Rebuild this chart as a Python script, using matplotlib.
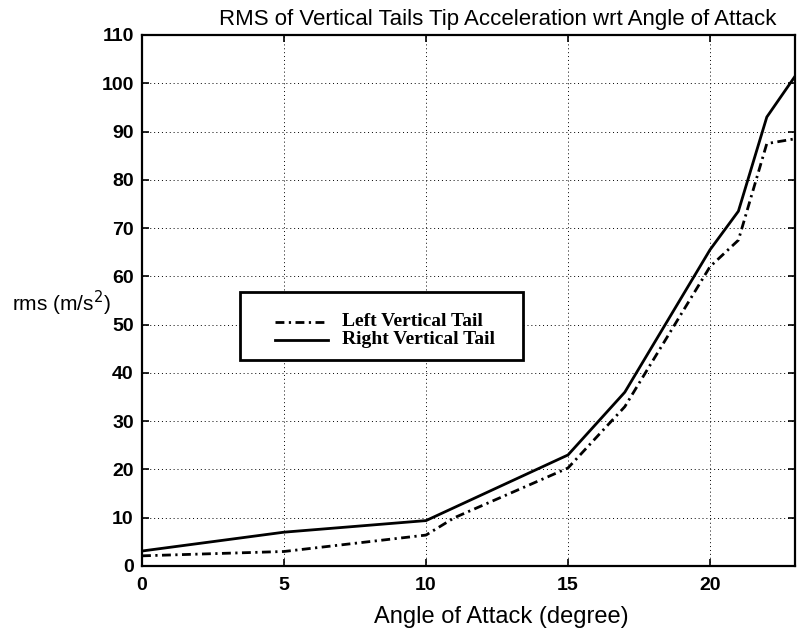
import matplotlib
matplotlib.use("Agg")
import matplotlib.pyplot as plt
from matplotlib.patches import Rectangle
from matplotlib.lines import Line2D

angle = [0, 5, 10, 11, 15, 17, 20, 21, 22, 23]
left_tail = [2.1, 3.0, 6.4, 10.0, 20.3, 33.0, 62.0, 67.5, 87.5, 88.5]
right_angle = [0, 5, 10, 15, 17, 20, 21, 22, 23]
right_tail = [3.1, 7.0, 9.4, 23.0, 36.0, 65.5, 73.5, 93.0, 101.5]
xticks = [0, 5, 10, 15, 20]
yticks = list(range(0, 111, 10))
series_names = ["Left Vertical Tail", "Right Vertical Tail"]

fig = plt.figure(figsize=(8, 6.34), dpi=100)
ax = fig.add_axes([0.1775, 0.1073, 0.8165, 0.8375])

left_style = (0, (3.2, 1.6, 0.8, 1.6))
ax.plot(angle, left_tail, color="black", lw=2.0, linestyle=left_style)
ax.plot(right_angle, right_tail, color="black", lw=2.0, linestyle="-")

ax.set_xlim(0, 23)
ax.set_ylim(0, 110)
ax.set_xticks(xticks)
ax.set_yticks(yticks)
ax.grid(True, color="black", linestyle=(0, (1, 3)), linewidth=0.7)
ax.tick_params(direction="in", top=True, right=True, length=5, width=1.2,
               labelsize=14)
ax.tick_params(axis="x", pad=8)
ax.tick_params(axis="y", pad=6)
for lab in ax.get_xticklabels() + ax.get_yticklabels():
    lab.set_fontfamily("Liberation Sans")
    lab.set_fontweight("bold")
for s in ax.spines.values():
    s.set_linewidth(1.6)

fig.text(0.622, 1 - 25 / 634, "RMS of Vertical Tails Tip Acceleration wrt Angle of Attack",
         fontfamily="Liberation Sans", fontsize=16, ha="center", va="baseline")
fig.text(501 / 800, 1 - 617.5 / 634, "Angle of Attack (degree)",
         fontfamily="Liberation Sans", fontsize=17, ha="center", va="center")
fig.text(12 / 800, 1 - 303 / 634, "rms (m/s$^2$)", fontfamily="Liberation Sans",
         fontsize=15, va="center", ha="left")

# legend box (drawn in axes coordinates)
ax.add_patch(Rectangle((0.150, 0.388), 0.4335, 0.1286, transform=ax.transAxes,
                       facecolor="white", edgecolor="black", lw=2.0, zorder=5))
legend_y = [0.460, 0.4256]
legend_styles = [left_style, "-"]
for yy, ls, name in zip(legend_y, legend_styles, series_names):
    ax.add_line(Line2D([0.2037, 0.2848], [yy, yy], transform=ax.transAxes,
                       color="black", lw=2.0, linestyle=ls, zorder=6))
    ax.text(0.3063, yy, name, transform=ax.transAxes, va="center", ha="left",
            fontfamily="Liberation Serif", fontweight="bold", fontsize=14,
            zorder=6)

fig.savefig("out.png", dpi=100)
